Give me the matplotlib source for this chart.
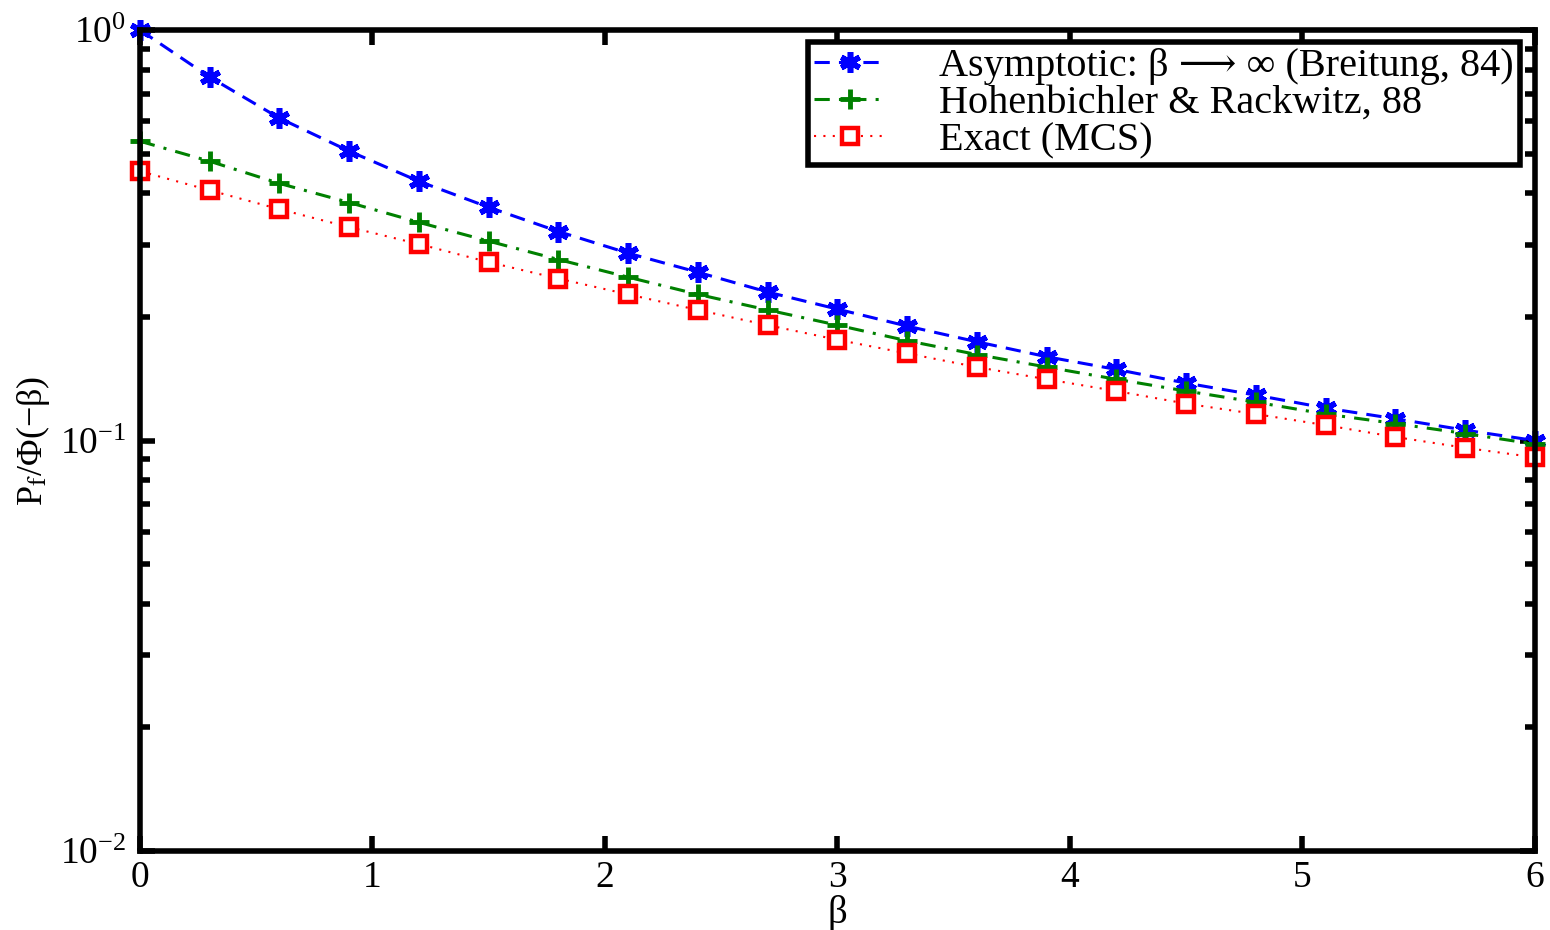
import numpy as np
import matplotlib
matplotlib.use("Agg")
import matplotlib.pyplot as plt
from matplotlib.ticker import LogLocator, NullFormatter

plt.rcParams['font.family'] = ['Liberation Serif', 'DejaVu Serif']
plt.rcParams['mathtext.fontset'] = 'stix'

beta = [0.0, 0.3, 0.6, 0.9, 1.2, 1.5, 1.8, 2.1, 2.4, 2.7, 3.0,
        3.3, 3.6, 3.9, 4.2, 4.5, 4.8, 5.1, 5.4, 5.7, 6.0]
asymptotic = [1.0, 0.768, 0.610, 0.507, 0.428, 0.370, 0.323, 0.286, 0.257, 0.230, 0.209,
              0.190, 0.174, 0.160, 0.149, 0.138, 0.129, 0.120, 0.113, 0.106, 0.100]
hohenbichler = [0.536, 0.479, 0.423, 0.380, 0.340, 0.306, 0.276, 0.250, 0.227, 0.208, 0.191,
                0.175, 0.162, 0.151, 0.141, 0.132, 0.124, 0.116, 0.110, 0.104, 0.098]
exact = [0.453, 0.407, 0.366, 0.331, 0.301, 0.272, 0.248, 0.227, 0.208, 0.191, 0.176,
         0.163, 0.151, 0.141, 0.132, 0.123, 0.116, 0.109, 0.102, 0.096, 0.091]

labels = ['Asymptotic: β ⟶ ∞ (Breitung, 84)',
          'Hohenbichler & Rackwitz, 88',
          'Exact (MCS)']

fig = plt.figure(figsize=(15.5, 9.3), dpi=100)
ax = fig.add_axes([0.0903, 0.0849, 0.9000, 0.8828])

ax.plot(beta, asymptotic, color='#0000ff', linestyle=(0, (5, 3)), linewidth=2.2,
        marker=(6, 2, 0), markersize=15, markeredgewidth=4, label=labels[0], clip_on=False)
ax.plot(beta, hohenbichler, color='#008000', linestyle=(0, (5, 3, 1, 3)), linewidth=2.2,
        marker='+', markersize=15, markeredgewidth=3.5, label=labels[1], clip_on=False)
ax.plot(beta, exact, color='#ff0000', linestyle=(0, (1, 3.5)), linewidth=1.5,
        marker='s', markersize=11, markerfacecolor='white', markeredgewidth=3.2,
        label=labels[2], clip_on=False)

ax.set_yscale('log')
ax.set_xlim(0, 6)
ax.set_ylim(0.01, 1)
ax.set_xticks([0, 1, 2, 3, 4, 5, 6])
ax.yaxis.set_major_locator(LogLocator(base=10, numticks=10))
ax.yaxis.set_minor_locator(LogLocator(base=10, subs=np.arange(2, 10), numticks=20))
ax.yaxis.set_minor_formatter(NullFormatter())

for s in ax.spines.values():
    s.set_linewidth(4)
ax.tick_params(which='both', direction='in', top=True, right=True, labelsize=27)
ax.tick_params(axis='x', pad=7)
ax.tick_params(axis='y', pad=10)
ax.tick_params(which='major', length=11, width=4)
ax.tick_params(which='minor', length=7, width=4)

ax.set_xlabel('β', fontsize=28)
ax.xaxis.set_label_coords(0.5, -0.054)
ax.set_ylabel(r'P$_\mathrm{f}$/Φ(−β)', fontsize=26)
ax.yaxis.set_label_coords(-0.063, 0.5)

leg = ax.legend(loc='upper right', fontsize=29, fancybox=False, framealpha=1,
                edgecolor='black', borderpad=0.15, labelspacing=0.0, handlelength=1.8,
                handletextpad=1.3, borderaxespad=0.0, bbox_to_anchor=(0.989, 0.986))
leg.get_frame().set_linewidth(4)

fig.savefig('out.png', dpi=100)
